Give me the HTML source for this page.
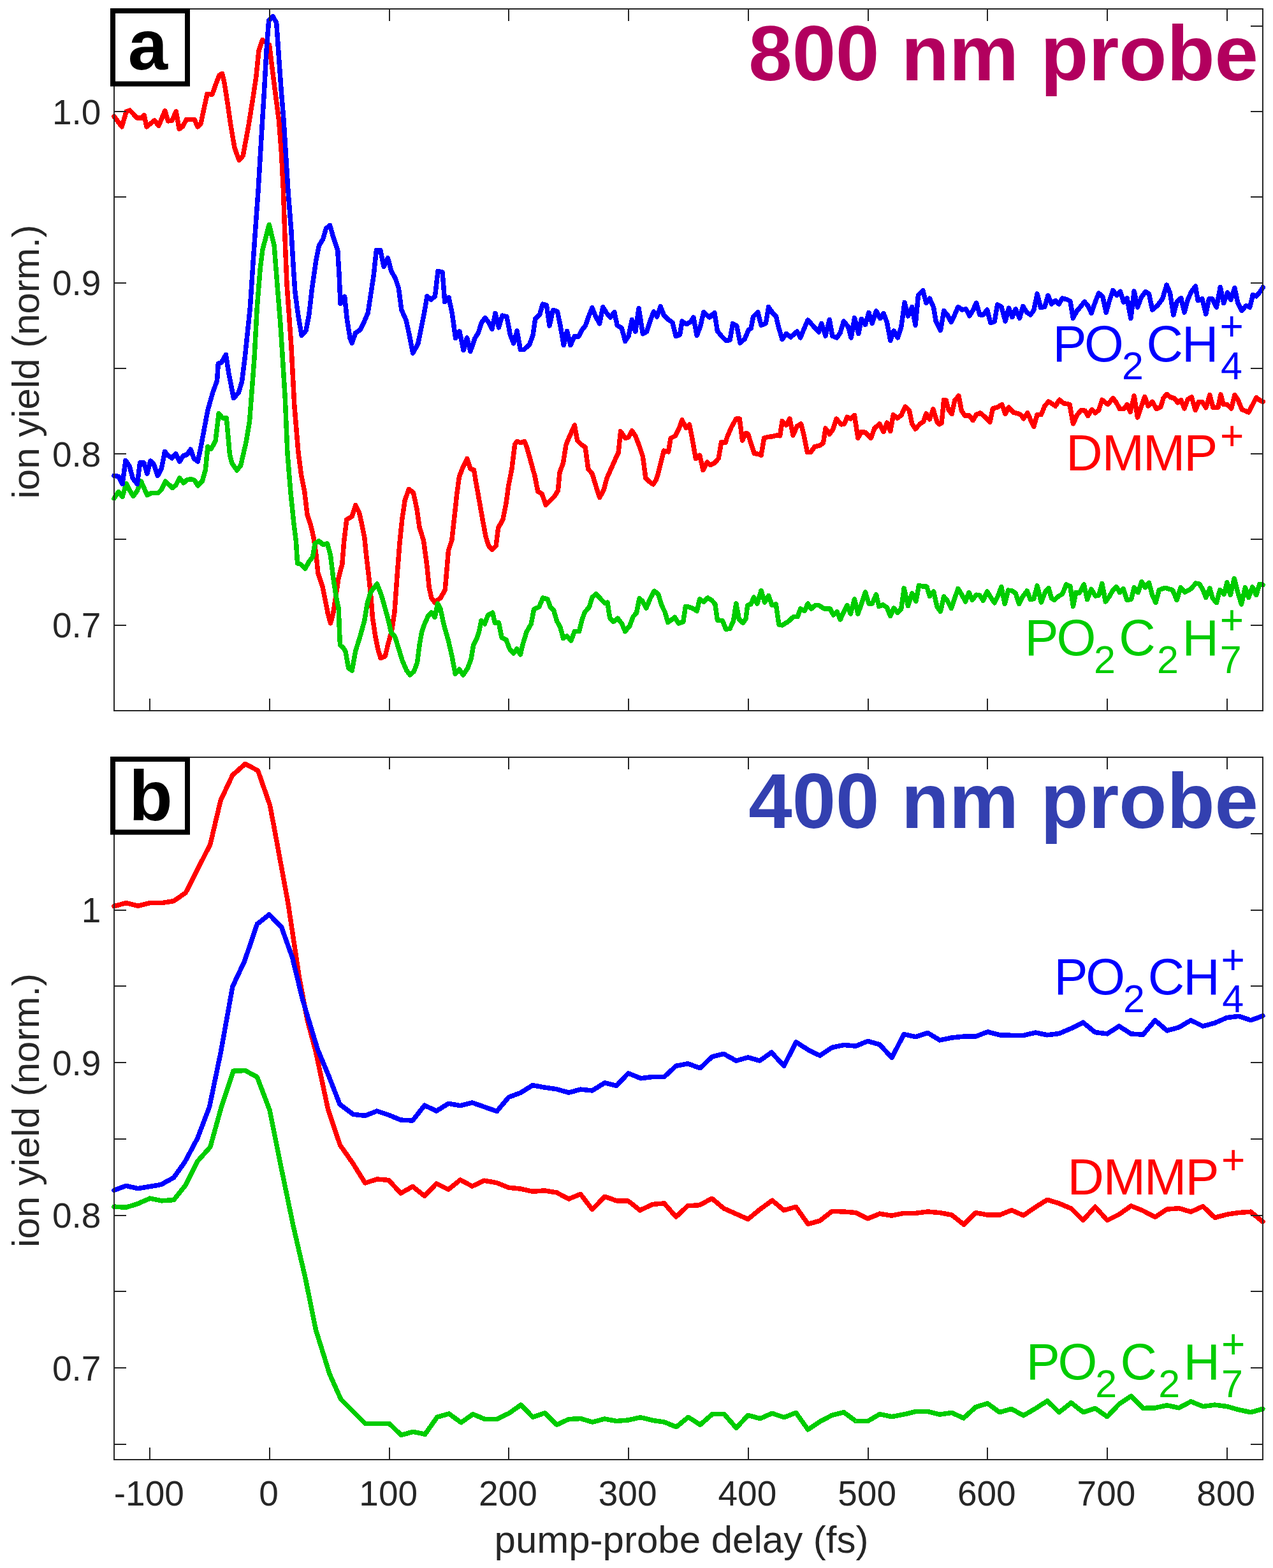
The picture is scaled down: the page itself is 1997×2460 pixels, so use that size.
<!DOCTYPE html>
<html><head><meta charset="utf-8"><style>
html,body{margin:0;padding:0;background:#fff;}
svg{display:block;}
.tk{font-family:"Liberation Sans",Arial,sans-serif;font-size:55px;fill:#262626;}
.lb{font-family:"Liberation Sans",Arial,sans-serif;font-size:60px;fill:#262626;}
.pl{font-family:"Liberation Sans",Arial,sans-serif;font-size:112px;font-weight:bold;fill:#000;}
.ti{font-family:"Liberation Sans",Arial,sans-serif;font-size:123px;font-weight:bold;}
.sm{font-family:"Liberation Sans",Arial,sans-serif;font-size:79.5px;}
.ss{font-family:"Liberation Sans",Arial,sans-serif;font-size:61px;}
.su{font-family:"Liberation Sans",Arial,sans-serif;font-size:64px;}
</style></head><body>
<svg width="1997" height="2460" viewBox="0 0 1997 2460">
<rect width="1997" height="2460" fill="#fff"/>
<polyline points="178.8,182.5 191.2,198.8 198.1,175.0 203.8,173.1 215.0,185.0 222.5,185.0 226.2,180.6 230.0,198.8 242.5,188.8 248.8,197.5 258.8,173.8 263.8,190.0 270.0,188.8 276.2,175.0 281.2,202.5 286.2,198.8 292.5,187.5 305.0,187.5 310.0,198.8 315.0,194.0 319.0,175.0 325.0,147.5 333.0,148.0 338.0,133.8 344.0,118.0 348.5,115.5 352.0,130.0 357.0,162.0 362.2,197.8 368.0,232.0 375.1,251.3 381.2,244.4 389.8,197.8 396.7,154.6 401.9,120.0 406.0,79.1 411.7,62.7 416.5,66.0 422.5,70.5 431.1,139.6 437.5,189.0 441.5,241.0 444.5,300.0 447.0,372.9 450.0,445.9 453.5,494.5 457.0,545.0 461.9,637.2 468.0,710.2 472.8,746.6 477.7,771.0 482.1,808.1 487.7,824.9 491.9,843.1 496.1,871.2 498.9,899.2 505.9,920.3 510.1,941.3 514.3,962.3 518.5,977.8 522.7,962.3 527.0,934.3 531.2,906.2 536.8,885.2 539.6,850.1 543.8,815.1 552.2,810.2 557.8,792.6 563.4,803.8 567.6,822.1 571.8,843.1 574.6,871.2 578.8,906.2 581.7,934.3 584.5,969.3 588.7,997.4 592.9,1018.4 597.1,1032.5 604.1,1029.7 609.7,1007.2 614.5,990.0 619.0,960.0 623.6,895.4 627.1,851.0 630.7,815.5 635.1,785.3 641.3,767.5 648.4,772.8 653.8,797.7 658.2,827.9 664.4,847.5 669.7,886.5 673.3,922.1 676.8,938.0 682.2,945.2 691.1,938.0 698.2,925.6 700.8,895.4 703.5,863.4 708.8,847.5 712.4,815.5 716.8,774.6 720.4,748.0 726.6,732.0 732.8,719.5 738.1,735.5 743.5,737.3 746.1,753.3 751.5,783.5 756.8,813.7 762.1,842.1 766.6,856.3 771.9,862.5 778.1,856.3 781.7,827.9 788.8,815.5 794.1,788.8 797.7,762.2 803.0,735.0 807.6,697.6 811.1,692.4 816.9,694.7 822.6,692.4 826.1,700.5 831.8,720.6 837.0,740.0 838.5,744.4 843.8,771.1 850.1,774.6 856.3,792.4 863.4,785.3 870.0,778.6 875.4,769.6 878.0,741.1 883.4,726.8 887.9,698.2 891.4,689.3 901.3,667.0 905.7,691.1 912.9,698.2 918.2,701.8 922.7,735.7 928.9,742.9 934.3,760.7 940.5,780.4 946.8,769.6 952.1,750.0 959.3,733.9 966.4,717.9 970.0,710.7 973.6,676.8 980.7,687.5 986.1,685.7 991.4,675.9 996.8,683.9 1003.0,700.0 1008.4,716.1 1012.9,750.0 1018.2,755.4 1024.5,759.8 1028.9,753.6 1032.5,742.9 1037.9,721.4 1041.4,707.1 1048.6,708.9 1052.1,687.5 1059.3,683.9 1065.5,671.4 1070.0,658.9 1076.3,671.4 1081.6,666.1 1086.1,689.3 1091.4,719.6 1097.7,714.3 1103.0,737.5 1109.3,725.0 1114.6,729.5 1120.0,726.8 1127.1,719.6 1131.6,693.8 1137.9,694.6 1141.4,683.9 1147.7,669.6 1154.8,657.1 1160.2,657.1 1164.6,691.1 1170.0,679.4 1173.6,681.1 1178.0,695.4 1183.4,711.4 1188.8,712.3 1194.1,714.1 1198.6,687.3 1204.8,685.5 1212.9,684.6 1218.2,682.9 1223.6,683.8 1227.1,660.5 1233.4,666.8 1238.8,657.0 1244.1,682.9 1250.4,668.6 1256.6,665.0 1261.1,682.9 1266.4,709.6 1271.8,709.6 1278.0,700.7 1286.1,698.9 1291.4,695.4 1295.0,672.1 1301.3,681.1 1306.6,673.9 1312.0,657.0 1320.0,665.9 1324.5,665.0 1328.9,654.3 1334.3,657.0 1340.5,651.6 1345.9,687.3 1351.3,677.5 1357.5,678.4 1366.4,687.3 1371.8,672.1 1379.8,665.0 1386.1,677.5 1391.4,663.2 1396.8,676.6 1401.3,650.7 1407.5,656.1 1413.8,651.6 1420.0,638.2 1426.3,643.6 1430.7,665.0 1436.1,673.0 1443.2,665.0 1448.6,661.4 1453.0,648.9 1458.4,657.9 1463.8,641.8 1470.0,662.0 1473.6,665.7 1477.1,663.9 1480.7,627.3 1484.3,628.2 1487.9,642.5 1493.2,649.6 1497.7,628.2 1503.9,621.1 1508.4,644.3 1513.8,652.3 1520.0,651.4 1526.3,659.5 1531.6,650.5 1537.9,647.9 1545.0,654.1 1553.0,662.1 1557.5,640.7 1564.6,638.9 1571.8,634.5 1577.1,649.6 1582.5,638.9 1589.6,647.0 1596.8,648.8 1602.1,651.4 1605.7,656.8 1612.0,647.9 1618.2,662.1 1621.8,669.3 1627.1,650.5 1633.4,650.5 1638.8,637.1 1645.0,630.0 1655.7,637.1 1662.0,627.3 1668.2,632.7 1678.0,634.5 1683.4,664.8 1689.6,651.4 1695.9,643.4 1702.1,644.3 1706.6,652.3 1712.9,642.5 1718.2,647.9 1723.6,643.4 1728.9,627.3 1737.9,634.5 1745.9,624.6 1751.3,631.8 1756.6,641.6 1762.9,641.6 1768.1,635.0 1773.2,646.2 1779.2,621.1 1784.5,654.9 1789.8,639.6 1795.8,622.4 1801.1,637.0 1807.7,630.3 1814.3,641.6 1820.9,638.3 1824.9,625.0 1830.2,618.4 1836.8,623.7 1842.1,624.4 1847.4,631.7 1852.7,627.7 1858.0,640.9 1863.3,626.4 1869.3,623.1 1875.3,643.6 1880.6,630.3 1885.9,630.3 1891.8,639.6 1897.8,619.7 1903.1,639.6 1911.0,639.0 1915.0,619.1 1919.0,634.3 1925.6,635.0 1931.6,640.9 1936.9,619.7 1942.2,627.7 1948.1,642.3 1958.7,646.9 1964.7,635.6 1970.7,623.7 1976.0,627.7 1981.2,630.3" fill="none" stroke="#ff0000" stroke-width="7.5" stroke-linejoin="round" stroke-linecap="round" shape-rendering="crispEdges"/>
<polyline points="179.0,781.9 185.9,771.6 192.0,779.3 198.0,758.6 203.2,769.0 209.2,778.5 215.3,769.8 221.3,755.1 230.8,776.7 237.8,773.3 248.1,773.3 253.3,768.1 259.4,755.1 270.6,765.5 275.8,761.2 281.8,750.0 287.9,757.7 293.9,752.5 300.0,751.7 305.1,753.4 310.3,762.0 317.2,755.1 322.4,737.0 325.9,700.7 331.1,704.2 338.0,692.1 343.2,648.9 349.2,655.8 355.3,655.8 360.4,712.8 363.9,726.6 371.7,737.9 377.7,730.1 386.4,692.1 391.5,661.0 396.5,595.0 399.1,560.0 403.3,482.3 408.2,421.5 411.8,392.4 422.2,352.3 430.1,385.1 434.9,445.9 439.8,506.6 442.6,550.0 447.3,625.1 450.9,710.2 455.8,771.0 461.0,822.1 464.5,850.1 466.6,883.8 471.6,885.2 478.6,892.2 484.9,881.0 490.5,874.0 494.0,852.9 500.3,848.7 506.6,854.3 513.6,852.9 518.5,871.2 522.7,906.2 527.0,934.3 531.2,955.0 532.5,990.0 533.5,1012.0 539.0,1017.0 542.0,1022.0 546.6,1047.9 552.2,1052.1 557.8,1021.2 564.8,998.8 571.8,973.5 576.7,944.1 581.7,928.7 591.5,916.0 598.5,934.3 608.3,969.3 613.9,993.2 619.5,998.8 626.5,1021.2 631.0,1036.0 637.8,1051.8 643.1,1058.9 649.3,1053.5 654.6,1039.3 658.2,1010.9 661.7,991.3 665.3,980.7 671.5,966.5 676.8,961.1 682.2,968.3 686.6,946.9 691.1,955.8 696.4,980.7 703.5,1005.6 708.8,1028.7 714.2,1057.1 720.4,1050.0 726.6,1058.9 733.7,1048.2 739.0,1034.0 742.6,1012.7 747.9,1002.0 751.5,991.3 755.0,973.6 760.3,978.9 765.7,964.7 772.8,961.1 776.3,977.1 782.5,977.1 787.0,1000.2 794.1,1003.8 799.4,1018.0 805.6,1025.1 811.0,1018.0 816.3,1026.9 820.7,1009.1 826.1,991.3 833.2,978.9 837.6,955.8 845.6,952.3 851.8,938.0 858.9,939.8 863.4,952.3 868.7,957.6 873.6,974.6 878.9,983.6 883.4,1001.4 889.6,997.9 895.9,1005.0 901.3,990.7 908.4,990.7 912.9,972.9 917.3,960.4 924.5,952.3 928.9,937.1 935.2,931.8 945.0,942.5 948.6,946.1 953.0,945.2 956.6,969.3 962.0,975.5 969.1,970.2 975.4,978.2 980.7,990.7 987.9,981.8 993.2,967.5 998.6,961.3 1003.0,938.9 1007.5,942.5 1013.8,954.1 1020.0,938.9 1026.3,927.3 1032.5,931.8 1037.9,949.6 1043.2,960.4 1047.7,976.4 1053.0,972.9 1058.4,968.4 1064.6,978.2 1071.8,975.5 1075.4,951.4 1080.7,952.3 1086.1,954.1 1093.2,958.6 1097.7,939.8 1103.9,944.3 1110.2,938.0 1116.4,941.6 1121.8,947.9 1125.4,972.9 1133.4,973.8 1138.8,987.1 1145.0,986.3 1150.4,974.6 1154.8,947.0 1159.3,971.1 1165.5,977.3 1170.0,971.1 1172.7,949.6 1178.0,947.9 1182.5,937.1 1187.9,947.0 1194.1,926.4 1199.5,945.2 1205.7,934.5 1211.1,949.6 1217.3,947.9 1221.8,980.0 1227.1,980.9 1236.1,975.5 1245.0,967.5 1251.3,967.5 1255.7,955.0 1262.0,958.6 1267.3,947.0 1272.7,955.0 1278.9,949.6 1284.3,949.6 1293.2,955.0 1302.1,955.0 1307.5,964.8 1312.9,959.5 1318.2,972.0 1323.6,960.4 1328.9,949.6 1334.3,963.0 1340.5,939.8 1345.9,963.0 1351.3,947.9 1357.5,929.1 1362.9,947.0 1368.2,947.0 1374.5,932.7 1378.9,951.4 1385.2,948.8 1391.4,953.2 1396.8,966.6 1402.1,954.1 1408.4,961.3 1413.8,955.0 1418.2,922.9 1424.5,950.5 1430.7,930.9 1437.0,943.4 1441.4,918.4 1448.6,920.2 1453.9,920.2 1458.4,935.4 1464.6,928.2 1470.0,952.0 1475.4,959.3 1480.7,935.9 1486.1,942.1 1492.3,954.6 1497.7,938.6 1503.0,923.4 1508.4,932.3 1514.6,943.9 1520.0,929.6 1525.4,941.3 1531.6,933.2 1537.0,934.1 1542.3,942.1 1548.6,927.9 1553.9,936.8 1560.2,945.7 1565.5,935.0 1570.9,920.7 1576.3,947.5 1581.6,926.1 1587.9,927.0 1593.2,930.5 1598.6,947.5 1603.9,936.8 1611.1,927.0 1616.4,940.4 1621.8,939.5 1627.1,918.9 1633.4,944.8 1639.6,928.8 1645.0,922.5 1649.5,938.6 1653.9,941.3 1661.1,935.0 1666.4,932.3 1672.7,917.1 1678.9,919.8 1683.4,951.1 1687.9,929.6 1693.2,930.5 1700.4,917.1 1705.7,940.4 1712.0,924.3 1718.2,935.0 1723.6,934.1 1728.9,915.4 1734.3,943.9 1739.6,936.8 1745.9,926.1 1751.3,920.7 1756.6,929.6 1762.0,923.5 1768.0,941.5 1774.6,940.2 1779.2,921.7 1785.2,929.6 1791.1,912.4 1796.4,921.7 1802.4,914.4 1807.7,933.6 1813.0,945.5 1818.3,925.6 1827.6,922.3 1839.5,925.6 1846.1,941.5 1852.1,921.7 1858.7,929.0 1868.6,923.7 1875.9,915.0 1881.9,916.4 1887.2,925.6 1891.8,937.6 1897.8,923.0 1902.4,938.9 1908.4,945.5 1913.7,925.6 1920.3,932.3 1925.0,913.7 1930.2,933.6 1936.2,907.8 1941.5,928.3 1947.5,948.2 1953.4,921.7 1958.7,937.6 1964.7,921.0 1970.7,933.6 1975.9,916.4 1981.2,917.7" fill="none" stroke="#00cc00" stroke-width="7.5" stroke-linejoin="round" stroke-linecap="round" shape-rendering="crispEdges"/>
<polyline points="179.0,746.5 185.9,747.4 192.0,759.5 197.1,722.3 203.2,731.8 208.4,750.8 215.3,759.5 219.6,725.8 225.7,725.8 230.8,743.0 236.0,723.2 241.2,728.4 247.3,746.5 253.3,735.3 258.5,708.5 263.7,714.5 269.7,718.8 275.8,711.9 281.8,724.0 287.9,714.5 293.0,713.7 299.1,705.0 304.3,719.7 310.3,724.0 315.5,699.0 325.9,643.7 333.7,616.0 340.6,597.0 342.3,570.5 347.5,568.5 354.4,556.5 358.7,584.9 366.5,624.7 374.3,616.0 379.5,598.8 384.3,560.0 392.4,482.3 397.2,409.4 401.5,348.6 405.0,300.0 410.6,206.4 414.7,139.6 418.0,80.0 421.6,32.5 428.1,25.6 433.7,35.9 437.5,90.0 441.0,139.6 445.1,189.1 452.0,300.0 456.8,360.8 460.4,421.5 462.9,458.0 467.7,494.5 473.2,526.1 479.9,518.8 484.7,494.5 489.6,451.9 495.7,409.4 500.5,385.1 506.6,375.4 511.5,358.3 517.6,353.5 522.4,370.5 529.7,392.4 532.2,433.7 534.0,476.2 540.7,465.3 544.3,500.6 549.2,530.9 552.2,538.2 557.7,522.4 565.0,517.6 570.0,507.5 577.1,491.4 580.7,468.2 586.1,432.5 590.5,392.3 596.8,392.3 602.1,418.2 608.4,404.8 613.8,425.4 620.0,436.1 625.4,452.1 629.8,486.1 637.0,502.1 641.4,521.8 647.7,553.9 655.7,539.6 661.1,512.9 666.4,486.1 670.0,464.6 676.3,470.0 682.5,464.6 687.0,425.4 694.1,427.1 697.7,473.6 703.9,466.4 709.3,491.4 714.6,530.7 720.9,520.0 727.1,549.5 732.5,529.8 737.9,551.3 745.0,530.7 750.4,521.8 755.7,505.7 761.1,498.6 766.4,505.7 771.8,516.4 777.1,491.4 782.5,513.8 787.9,495.0 795.0,496.8 800.4,525.4 805.7,538.8 811.1,519.1 816.4,548.6 821.8,548.6 830.7,540.5 836.1,525.4 839.6,500.4 846.8,493.2 851.3,477.1 857.5,478.9 862.0,511.1 867.3,487.0 870.0,487.1 874.5,488.9 878.9,510.4 884.3,541.6 889.6,519.3 895.0,541.6 901.3,527.3 907.5,528.2 912.9,517.5 918.2,511.3 923.6,496.1 928.9,482.7 934.3,496.1 940.5,507.7 945.9,481.8 951.3,490.7 957.5,497.9 963.8,489.8 968.2,510.4 975.4,514.8 980.7,535.4 986.1,527.3 991.4,501.4 996.8,520.2 1002.1,483.6 1008.4,523.8 1014.6,520.2 1020.0,503.2 1025.4,488.9 1030.7,497.0 1036.1,480.9 1041.4,494.3 1048.6,501.4 1054.8,505.9 1060.2,527.3 1066.4,525.5 1070.0,504.1 1077.1,508.6 1083.4,505.0 1087.9,497.9 1093.2,526.4 1098.6,512.1 1103.9,489.8 1112.9,497.9 1120.9,490.7 1125.4,519.3 1132.5,528.2 1138.8,534.5 1145.0,533.6 1149.5,507.7 1155.7,511.3 1161.1,538.0 1168.2,531.8 1174.5,517.3 1178.0,515.5 1181.6,496.8 1188.8,489.6 1194.1,510.2 1201.3,507.5 1205.7,481.6 1212.9,492.3 1217.3,495.9 1221.8,514.6 1227.1,532.5 1233.4,523.6 1240.5,528.9 1250.4,520.0 1255.7,529.8 1261.1,516.4 1267.3,502.1 1277.1,512.9 1284.3,520.9 1288.8,507.5 1295.0,527.1 1301.3,501.3 1305.7,527.1 1312.9,529.8 1318.2,521.8 1323.6,503.9 1330.7,512.9 1335.2,529.8 1340.5,498.6 1346.8,523.6 1351.3,500.4 1357.5,509.3 1362.9,490.5 1368.2,507.5 1374.5,487.9 1380.7,499.5 1386.1,491.4 1391.4,505.7 1396.8,534.3 1402.1,519.1 1408.4,529.8 1413.8,512.9 1419.1,474.5 1424.5,495.9 1430.7,481.6 1436.1,510.2 1440.5,462.9 1447.7,455.7 1453.0,475.4 1458.4,468.2 1464.6,482.5 1468.2,503.9 1475.4,518.5 1480.7,487.7 1486.1,493.9 1492.3,505.5 1497.7,493.9 1503.0,481.4 1509.3,485.9 1515.5,485.0 1520.9,495.7 1526.3,486.8 1531.6,475.2 1537.0,493.9 1542.3,493.9 1548.6,485.9 1553.9,506.4 1560.2,504.6 1564.6,477.9 1570.9,481.4 1577.1,503.8 1582.5,483.2 1587.9,497.5 1593.2,485.0 1599.5,499.3 1604.8,480.5 1611.1,490.4 1616.4,493.9 1621.8,486.8 1627.1,460.9 1632.5,482.3 1638.8,481.4 1644.1,463.6 1649.5,477.0 1655.7,471.6 1661.1,477.0 1666.4,468.0 1673.6,469.8 1678.9,472.5 1683.4,499.3 1688.8,488.6 1695.0,481.4 1701.3,473.4 1706.6,479.6 1712.0,491.3 1717.3,476.1 1723.6,460.0 1729.8,465.4 1735.2,490.4 1739.6,474.3 1745.9,455.5 1752.1,463.6 1757.5,457.3 1762.6,474.2 1768.0,467.6 1773.9,499.4 1779.2,457.0 1784.5,482.1 1790.5,466.2 1797.1,457.6 1802.4,460.9 1807.7,486.1 1815.6,479.5 1823.6,468.9 1830.2,447.0 1835.5,459.6 1840.8,494.1 1846.1,474.2 1852.7,467.6 1858.0,490.1 1863.3,470.2 1868.6,458.3 1875.3,449.0 1879.2,471.5 1885.9,468.9 1891.8,492.7 1896.5,468.9 1901.8,468.9 1908.4,482.1 1914.3,450.3 1919.6,475.5 1925.6,459.0 1930.9,470.2 1936.9,451.7 1941.5,474.2 1948.1,487.4 1954.7,479.5 1960.7,482.1 1965.4,462.3 1970.7,464.9 1977.3,457.0 1981.2,451.0" fill="none" stroke="#0000ff" stroke-width="7.5" stroke-linejoin="round" stroke-linecap="round" shape-rendering="crispEdges"/>
<polyline points="179.0,1421.8 197.7,1416.6 216.4,1421.3 235.1,1416.6 253.8,1416.6 272.5,1413.6 291.2,1400.7 329.8,1324.7 346.1,1255.8 364.8,1216.1 384.7,1198.5 404.6,1209.0 423.3,1262.8 430.4,1300.0 451.9,1416.9 469.5,1533.8 482.0,1600.0 495.5,1650.6 514.5,1740.0 533.5,1796.5 553.2,1824.5 572.8,1856.0 591.5,1850.0 609.9,1851.5 628.6,1872.1 647.3,1861.5 666.0,1876.3 684.7,1856.9 703.4,1866.2 722.1,1851.0 740.8,1861.1 759.5,1852.2 779.4,1855.7 798.1,1863.2 816.8,1865.1 835.5,1869.3 854.2,1867.9 873.3,1871.0 892.3,1881.0 910.7,1873.4 929.1,1897.6 948.7,1877.3 967.1,1883.8 985.6,1884.2 1004.0,1898.8 1023.6,1889.5 1042.0,1887.9 1060.5,1909.1 1078.9,1891.8 1097.3,1890.7 1116.9,1880.3 1135.3,1895.8 1154.9,1904.5 1173.4,1912.8 1191.8,1897.6 1211.4,1883.3 1229.8,1898.8 1248.5,1893.4 1267.6,1920.4 1286.1,1915.3 1305.2,1900.3 1323.9,1901.0 1342.5,1902.6 1361.4,1911.8 1380.1,1904.2 1399.0,1907.2 1417.9,1903.3 1436.5,1903.3 1455.4,1901.0 1474.3,1902.6 1493.0,1906.1 1511.9,1921.1 1530.6,1902.6 1549.4,1906.1 1568.3,1906.1 1587.0,1898.7 1605.5,1906.8 1624.2,1894.0 1642.9,1882.3 1661.5,1888.0 1680.4,1896.1 1699.1,1914.5 1718.0,1893.3 1736.9,1914.5 1755.5,1905.3 1774.4,1891.9 1793.1,1899.5 1812.0,1909.4 1830.6,1897.2 1849.5,1895.6 1868.2,1901.2 1887.1,1892.6 1905.8,1910.4 1924.6,1905.3 1943.3,1902.5 1962.2,1901.2 1980.9,1916.8" fill="none" stroke="#ff0000" stroke-width="7.5" stroke-linejoin="round" stroke-linecap="round" shape-rendering="crispEdges"/>
<polyline points="179.0,1893.1 197.7,1894.3 216.4,1888.4 235.1,1880.2 253.8,1883.8 272.5,1882.6 291.2,1859.2 309.9,1821.8 329.8,1799.6 347.3,1736.5 366.0,1680.2 384.7,1679.6 403.4,1689.7 423.0,1741.6 441.7,1834.7 460.4,1925.0 479.2,2006.0 495.5,2086.5 512.2,2140.0 516.6,2154.6 534.6,2194.9 554.1,2214.5 573.0,2233.4 591.7,2233.4 610.6,2233.4 629.3,2251.4 648.2,2246.3 666.8,2250.2 685.7,2223.3 704.4,2218.0 723.3,2231.8 741.9,2218.7 760.6,2226.5 779.5,2226.5 798.4,2217.3 817.1,2204.1 835.9,2223.3 854.6,2216.8 873.5,2235.3 892.1,2226.6 910.9,2225.6 929.5,2231.1 948.4,2226.0 967.1,2229.5 986.0,2227.9 1004.7,2223.7 1023.5,2228.3 1042.2,2231.1 1060.9,2238.7 1079.8,2223.3 1098.4,2235.3 1117.3,2218.7 1136.2,2218.7 1154.9,2240.3 1173.5,2220.3 1192.4,2225.6 1211.1,2217.3 1230.0,2223.7 1248.7,2216.4 1267.5,2242.8 1286.3,2230.2 1305.2,2220.3 1323.8,2215.7 1342.5,2229.5 1361.4,2229.5 1380.0,2218.7 1398.9,2222.6 1417.6,2219.1 1436.5,2214.5 1455.4,2214.5 1474.1,2219.1 1493.0,2216.4 1511.6,2224.9 1530.5,2207.6 1549.2,2201.8 1568.1,2215.7 1586.7,2210.4 1605.5,2220.8 1624.2,2209.9 1642.9,2197.9 1661.5,2215.7 1680.4,2200.7 1699.3,2215.7 1718.0,2209.4 1736.9,2222.6 1755.5,2203.0 1774.4,2190.3 1793.1,2209.4 1812.0,2208.8 1830.6,2204.8 1849.5,2208.8 1868.2,2198.8 1887.1,2206.5 1905.8,2204.1 1924.6,2206.5 1943.3,2211.8 1962.2,2215.7 1980.9,2210.4" fill="none" stroke="#00cc00" stroke-width="7.5" stroke-linejoin="round" stroke-linecap="round" shape-rendering="crispEdges"/>
<polyline points="179.0,1867.4 197.7,1860.4 216.4,1864.6 235.1,1861.5 252.6,1858.5 272.5,1847.5 290.0,1823.0 309.9,1785.6 328.6,1736.5 346.5,1650.0 364.8,1548.0 383.5,1508.2 403.4,1449.8 422.2,1434.8 441.5,1454.4 458.8,1503.0 474.8,1568.8 498.2,1646.0 516.5,1690.0 533.0,1732.5 554.0,1748.2 572.7,1750.4 591.4,1743.1 609.9,1749.3 628.6,1757.1 647.3,1758.0 666.0,1734.2 684.7,1743.0 703.4,1731.3 722.1,1734.6 740.8,1729.9 759.5,1736.5 779.4,1743.5 798.1,1721.3 816.8,1714.3 835.5,1702.6 854.2,1706.1 873.3,1708.8 892.3,1714.2 910.7,1709.1 929.1,1711.0 948.7,1698.8 967.1,1703.4 985.6,1683.8 1005.2,1691.8 1023.6,1689.5 1042.0,1689.5 1060.5,1672.3 1078.9,1668.8 1098.5,1675.7 1116.9,1658.0 1135.3,1653.4 1154.9,1664.2 1173.4,1658.9 1191.8,1664.2 1210.2,1651.1 1229.8,1672.3 1248.8,1634.9 1267.6,1646.9 1286.1,1656.1 1305.2,1643.4 1323.9,1639.5 1342.5,1641.1 1361.4,1633.5 1380.1,1638.8 1399.0,1659.5 1417.9,1622.7 1436.5,1626.6 1455.4,1620.4 1474.3,1631.9 1493.0,1628.0 1511.9,1626.1 1530.6,1626.1 1549.4,1618.8 1568.3,1623.8 1587.0,1624.3 1605.6,1624.4 1624.3,1620.0 1642.9,1623.8 1661.5,1621.5 1680.4,1613.4 1699.1,1604.2 1718.0,1619.6 1736.9,1621.9 1755.5,1610.0 1774.4,1621.9 1793.1,1623.3 1812.0,1600.7 1830.6,1616.9 1849.5,1611.8 1868.2,1600.7 1887.1,1610.0 1905.8,1604.9 1924.6,1596.6 1943.3,1594.3 1962.2,1600.7 1980.9,1593.8" fill="none" stroke="#0000ff" stroke-width="7.5" stroke-linejoin="round" stroke-linecap="round" shape-rendering="crispEdges"/>
<rect x="179.0" y="14.0" width="1802.00" height="1101.00" fill="none" stroke="#262626" stroke-width="2" shape-rendering="crispEdges"/>
<path d="M235.00 1115.00V1096.00M235.00 14.00V33.00M423.00 1115.00V1096.00M423.00 14.00V33.00M611.00 1115.00V1096.00M611.00 14.00V33.00M798.00 1115.00V1096.00M798.00 14.00V33.00M986.00 1115.00V1096.00M986.00 14.00V33.00M1174.00 1115.00V1096.00M1174.00 14.00V33.00M1362.00 1115.00V1096.00M1362.00 14.00V33.00M1549.00 1115.00V1096.00M1549.00 14.00V33.00M1737.00 1115.00V1096.00M1737.00 14.00V33.00M1925.00 1115.00V1096.00M1925.00 14.00V33.00M179.00 981.00H198.00M1981.00 981.00H1962.00M179.00 846.00H198.00M1981.00 846.00H1962.00M179.00 712.00H198.00M1981.00 712.00H1962.00M179.00 578.00H198.00M1981.00 578.00H1962.00M179.00 444.00H198.00M1981.00 444.00H1962.00M179.00 309.00H198.00M1981.00 309.00H1962.00M179.00 175.00H198.00M1981.00 175.00H1962.00M179.00 41.00H198.00M1981.00 41.00H1962.00" stroke="#262626" stroke-width="2" fill="none" shape-rendering="crispEdges"/>
<text x="158.4" y="194.8" text-anchor="end" class="tk">1.0</text>
<text x="158.4" y="463.4" text-anchor="end" class="tk">0.9</text>
<text x="158.4" y="731.9" text-anchor="end" class="tk">0.8</text>
<text x="158.4" y="1000.4" text-anchor="end" class="tk">0.7</text>
<rect x="179.0" y="1188.0" width="1802.00" height="1102.00" fill="none" stroke="#262626" stroke-width="2" shape-rendering="crispEdges"/>
<path d="M235.00 2290.00V2271.00M235.00 1188.00V1207.00M423.00 2290.00V2271.00M423.00 1188.00V1207.00M611.00 2290.00V2271.00M611.00 1188.00V1207.00M798.00 2290.00V2271.00M798.00 1188.00V1207.00M986.00 2290.00V2271.00M986.00 1188.00V1207.00M1174.00 2290.00V2271.00M1174.00 1188.00V1207.00M1362.00 2290.00V2271.00M1362.00 1188.00V1207.00M1549.00 2290.00V2271.00M1549.00 1188.00V1207.00M1737.00 2290.00V2271.00M1737.00 1188.00V1207.00M1925.00 2290.00V2271.00M1925.00 1188.00V1207.00M179.00 2266.00H198.00M1981.00 2266.00H1962.00M179.00 2146.00H198.00M1981.00 2146.00H1962.00M179.00 2026.00H198.00M1981.00 2026.00H1962.00M179.00 1907.00H198.00M1981.00 1907.00H1962.00M179.00 1787.00H198.00M1981.00 1787.00H1962.00M179.00 1667.00H198.00M1981.00 1667.00H1962.00M179.00 1547.00H198.00M1981.00 1547.00H1962.00M179.00 1428.00H198.00M1981.00 1428.00H1962.00M179.00 1308.00H198.00M1981.00 1308.00H1962.00M179.00 1188.00H198.00M1981.00 1188.00H1962.00" stroke="#262626" stroke-width="2" fill="none" shape-rendering="crispEdges"/>
<text x="158.4" y="1447.3" text-anchor="end" class="tk">1</text>
<text x="158.4" y="1686.8" text-anchor="end" class="tk">0.9</text>
<text x="158.4" y="1926.4" text-anchor="end" class="tk">0.8</text>
<text x="158.4" y="2166.0" text-anchor="end" class="tk">0.7</text>
<text x="233.8" y="2362" text-anchor="middle" class="tk">-100</text>
<text x="421.5" y="2362" text-anchor="middle" class="tk">0</text>
<text x="609.2" y="2362" text-anchor="middle" class="tk">100</text>
<text x="796.9" y="2362" text-anchor="middle" class="tk">200</text>
<text x="984.6" y="2362" text-anchor="middle" class="tk">300</text>
<text x="1172.4" y="2362" text-anchor="middle" class="tk">400</text>
<text x="1360.1" y="2362" text-anchor="middle" class="tk">500</text>
<text x="1547.8" y="2362" text-anchor="middle" class="tk">600</text>
<text x="1735.5" y="2362" text-anchor="middle" class="tk">700</text>
<text x="1923.2" y="2362" text-anchor="middle" class="tk">800</text>
<text x="1069" y="2436" text-anchor="middle" class="lb">pump-probe delay (fs)</text>
<text transform="translate(61,567.5) rotate(-90)" text-anchor="middle" class="lb">ion yield (norm.)</text>
<text transform="translate(61,1742.0) rotate(-90)" text-anchor="middle" class="lb">ion yield (norm.)</text>
<rect x="177" y="17.0" width="117" height="114.6" fill="#fff" stroke="#000" stroke-width="8"/>
<text x="232" y="108.5" text-anchor="middle" class="pl">a</text>
<rect x="177" y="1191.0" width="117" height="114.6" fill="#fff" stroke="#000" stroke-width="8"/>
<text x="236.5" y="1286.5" text-anchor="middle" class="pl">b</text>
<text x="1974" y="126" text-anchor="end" class="ti" fill="#b2005e">800 nm probe</text>
<text x="1974" y="1298.6" text-anchor="end" class="ti" fill="#3340b0">400 nm probe</text>
<text fill="#0000ff"><tspan x="1651.4" y="566.6" class="sm">P</tspan><tspan x="1701.1" y="566.6" class="sm">O</tspan><tspan x="1760.0" y="594.7" class="ss">2</tspan><tspan x="1798.6" y="566.6" class="sm">C</tspan><tspan x="1854.1" y="566.6" class="sm">H</tspan><tspan x="1915.1" y="594.7" class="ss">4</tspan><tspan x="1913.4" y="534.2" class="su">+</tspan></text>
<text fill="#ff0000"><tspan x="1672.3" y="738.1" class="sm">D</tspan><tspan x="1728.7" y="738.1" class="sm">M</tspan><tspan x="1793.0" y="738.1" class="sm">M</tspan><tspan x="1857.3" y="738.1" class="sm">P</tspan><tspan x="1913.9" y="705.7" class="su">+</tspan></text>
<text fill="#00cc00"><tspan x="1607.6" y="1027.8" class="sm">P</tspan><tspan x="1657.4" y="1027.8" class="sm">O</tspan><tspan x="1716.1" y="1055.9" class="ss">2</tspan><tspan x="1755.3" y="1027.8" class="sm">C</tspan><tspan x="1815.1" y="1055.9" class="ss">2</tspan><tspan x="1854.4" y="1027.8" class="sm">H</tspan><tspan x="1913.8" y="1055.9" class="ss">7</tspan><tspan x="1913.8" y="995.4" class="su">+</tspan></text>
<text fill="#0000ff"><tspan x="1653.5" y="1560.0" class="sm">P</tspan><tspan x="1703.2" y="1560.0" class="sm">O</tspan><tspan x="1762.1" y="1588.1" class="ss">2</tspan><tspan x="1800.7" y="1560.0" class="sm">C</tspan><tspan x="1856.2" y="1560.0" class="sm">H</tspan><tspan x="1917.2" y="1588.1" class="ss">4</tspan><tspan x="1915.5" y="1527.6" class="su">+</tspan></text>
<text fill="#ff0000"><tspan x="1674.4" y="1874.0" class="sm">D</tspan><tspan x="1730.8" y="1874.0" class="sm">M</tspan><tspan x="1795.1" y="1874.0" class="sm">M</tspan><tspan x="1859.4" y="1874.0" class="sm">P</tspan><tspan x="1916.0" y="1841.6" class="su">+</tspan></text>
<text fill="#00cc00"><tspan x="1609.7" y="2163.7" class="sm">P</tspan><tspan x="1659.5" y="2163.7" class="sm">O</tspan><tspan x="1718.2" y="2191.8" class="ss">2</tspan><tspan x="1757.4" y="2163.7" class="sm">C</tspan><tspan x="1817.2" y="2191.8" class="ss">2</tspan><tspan x="1856.5" y="2163.7" class="sm">H</tspan><tspan x="1915.9" y="2191.8" class="ss">7</tspan><tspan x="1915.9" y="2131.3" class="su">+</tspan></text>
</svg></body></html>
